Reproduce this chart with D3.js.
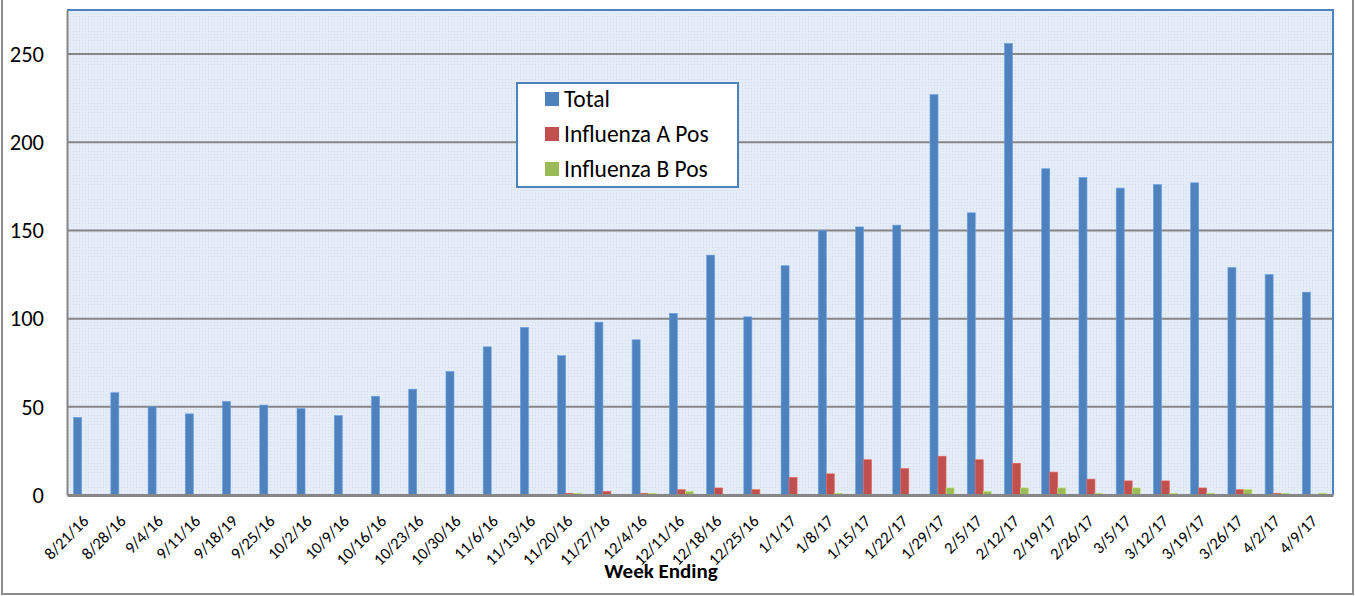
<!DOCTYPE html>
<html lang="en">
<head>
  <meta charset="utf-8">
  <title>Week Ending - Total and Influenza Pos</title>
  <style>
    body {
      margin: 0;
      background: #fff;
    }
    svg text {
      font-family: Calibri, Carlito, Lato, sans-serif;
      fill: #000;
    }
    .y-axis text {
      font-size: 22.5px;
    }
    .x-axis text {
      font-size: 16.5px;
    }
    .legend text {
      font-size: 23.5px;
    }
  </style>
</head>
<body>
  <div id="chart"></div>

  <script src="https://d3js.org/d3.v7.min.js"></script>
  <script>
    // week ending dates (labels as printed, including the 9/18/19 typo)
    var weeks = ["8/21/16", "8/28/16", "9/4/16", "9/11/16", "9/18/19", "9/25/16", "10/2/16",
      "10/9/16", "10/16/16", "10/23/16", "10/30/16", "11/6/16", "11/13/16", "11/20/16",
      "11/27/16", "12/4/16", "12/11/16", "12/18/16", "12/25/16", "1/1/17", "1/8/17",
      "1/15/17", "1/22/17", "1/29/17", "2/5/17", "2/12/17", "2/19/17", "2/26/17",
      "3/5/17", "3/12/17", "3/19/17", "3/26/17", "4/2/17", "4/9/17"];

    var total = [44, 58, 50, 46, 53, 51, 49, 45, 56, 60, 70, 84, 95, 79, 98, 88, 103, 136,
      101, 130, 150, 152, 153, 227, 160, 256, 185, 180, 174, 176, 177, 129, 125, 115];

    var fluA = [0, 0, 0, 0, 0, 0, 0, 0, 0, 0, 0, 0, 0, 1, 2, 1, 3, 4,
      3, 10, 12, 20, 15, 22, 20, 18, 13, 9, 8, 8, 4, 3, 1, 0];

    var fluB = [0, 0, 0, 0, 0, 0, 0, 0, 0, 0, 0, 0, 0, 1, 0, 1, 2, 0,
      0, 0, 1, 0, 0, 4, 2, 4, 4, 1, 4, 1, 1, 3, 1, 1];

    var seriesNames = ["Total", "Influenza A Pos", "Influenza B Pos"];
    var colors = ["#4f81bd", "#c0504d", "#9bbb59"];
    var yTicks = [0, 50, 100, 150, 200, 250];

    var series = [total, fluA, fluB];

    var W = 1355, H = 596;
    var margin = { top: 10, right: 22, bottom: 101, left: 67 };
    var width = W - margin.left - margin.right,
        height = H - margin.top - margin.bottom;

    var svg = d3.select("#chart").append("svg")
      .attr("width", W)
      .attr("height", H);

    // outer chart frame
    svg.append("rect")
      .attr("x", 2).attr("y", -6)
      .attr("width", W - 4).attr("height", 600)
      .attr("fill", "none")
      .attr("stroke", "#8c8c8c")
      .attr("stroke-width", 2);

    // dotted light blue plot fill
    var defs = svg.append("defs");
    var pat = defs.append("pattern")
      .attr("id", "dots")
      .attr("width", 3).attr("height", 3)
      .attr("patternUnits", "userSpaceOnUse");
    pat.append("rect").attr("width", 3).attr("height", 3).attr("fill", "#e4ecf7");
    pat.append("rect").attr("width", 1).attr("height", 1).attr("fill", "#d3ddec");

    var g = svg.append("g")
      .attr("transform", "translate(" + margin.left + "," + margin.top + ")");

    g.append("rect")
      .attr("width", width)
      .attr("height", height)
      .attr("fill", "url(#dots)");

    var x0 = d3.scaleBand()
      .domain(weeks)
      .range([0, width])
      .paddingInner(0)
      .paddingOuter(0);

    var groupW = x0.bandwidth() * 0.645;
    var x1 = d3.scaleBand()
      .domain(d3.range(series.length))
      .range([(x0.bandwidth() - groupW) / 2, (x0.bandwidth() + groupW) / 2]);

    var y = d3.scaleLinear()
      .domain([0, 275])
      .range([height, 0]);

    // gridlines
    g.append("g")
      .selectAll("line")
      .data(yTicks.filter(function(d) { return d > 0; }))
      .enter().append("line")
      .attr("x1", 0).attr("x2", width)
      .attr("y1", function(d) { return y(d); })
      .attr("y2", function(d) { return y(d); })
      .attr("stroke", "#868686")
      .attr("stroke-width", 2);

    // plot border (top / right in blue)
    g.append("path")
      .attr("d", "M0,0H" + width + "V" + height)
      .attr("fill", "none")
      .attr("stroke", "#4f81bd")
      .attr("stroke-width", 2);

    // bars
    var groups = g.selectAll(".week")
      .data(weeks)
      .enter().append("g")
      .attr("class", "week")
      .attr("transform", function(d) { return "translate(" + x0(d) + ",0)"; });

    groups.selectAll("rect")
      .data(function(d, i) {
        return series.map(function(s, k) { return { k: k, v: s[i] }; });
      })
      .enter().append("rect")
      .filter(function(d) { return d.v > 0; })
      .attr("x", function(d) { return x1(d.k); })
      .attr("width", x1.bandwidth())
      .attr("y", function(d) { return y(d.v); })
      .attr("height", function(d) { return height - y(d.v); })
      .attr("fill", function(d) { return colors[d.k]; })
      .attr("stroke", function(d) { return d3.color(colors[d.k]).brighter(0.6); })
      .attr("stroke-width", 0.6);

    // y axis
    var yAxis = g.append("g")
      .attr("class", "y-axis")
      .call(d3.axisLeft(y).tickValues(yTicks).tickSize(0).tickPadding(23));
    yAxis.select(".domain").attr("stroke", "#868686").attr("stroke-width", 2);

    // x axis
    var xAxis = g.append("g")
      .attr("class", "x-axis")
      .attr("transform", "translate(0," + height + ")")
      .call(d3.axisBottom(x0).tickSize(0));
    xAxis.select(".domain").attr("stroke", "#868686").attr("stroke-width", 3);
    xAxis.selectAll("text")
      .attr("text-anchor", "end")
      .attr("x", 0)
      .attr("y", 0)
      .attr("dy", 0)
      .attr("transform", "translate(4,27) rotate(-45)");

    // axis title
    svg.append("text")
      .attr("x", 661)
      .attr("y", 578)
      .attr("text-anchor", "middle")
      .style("font-size", "21px")
      .style("font-weight", "bold")
      .text("Week Ending");

    // legend
    var legend = svg.append("g")
      .attr("class", "legend")
      .attr("transform", "translate(517,83)");
    legend.append("rect")
      .attr("width", 221).attr("height", 104)
      .attr("fill", "#fff")
      .attr("stroke", "#4f81bd")
      .attr("stroke-width", 2);
    var items = legend.selectAll(".item")
      .data(seriesNames)
      .enter().append("g")
      .attr("class", "item")
      .attr("transform", function(d, i) { return "translate(28," + (16 + i * 35) + ")"; });
    items.append("rect")
      .attr("y", -7)
      .attr("width", 14).attr("height", 14)
      .attr("fill", function(d, i) { return colors[i]; });
    items.append("text")
      .attr("x", 19)
      .attr("dy", "0.35em")
      .text(function(d) { return d; });
  </script>
</body>
</html>
